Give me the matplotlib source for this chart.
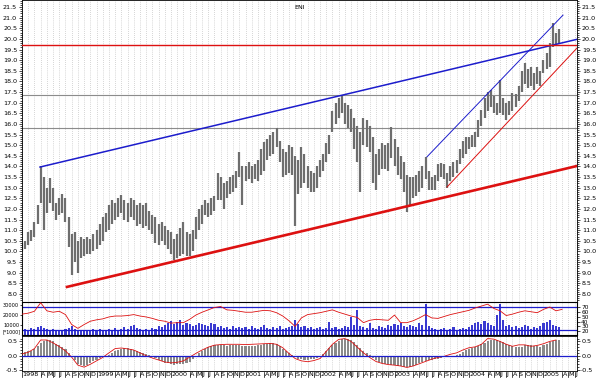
import matplotlib
matplotlib.use("Agg")
import matplotlib.pyplot as plt
import numpy as np

# semi-monthly price bars, Jan 1998 .. Mar 2005 (low / high)
price_low = [10.0, 10.1, 10.3, 10.5, 10.7, 11.3, 12.3, 11.0, 11.8, 12.3, 11.9, 11.5,
             11.7, 11.8, 11.4, 10.2, 8.9, 9.5, 9.0, 9.7, 9.8, 9.9, 9.9, 10.0,
             10.1, 10.3, 10.5, 10.9, 11.0, 11.3, 11.5, 11.6, 11.8, 11.5, 11.4, 11.6,
             11.5, 11.2, 11.3, 11.1, 11.2, 11.0, 10.8, 10.4, 10.3, 10.5, 10.3, 10.1,
             9.9, 9.6, 9.7, 9.8, 9.9, 9.8, 9.8, 10.0, 10.6, 11.0, 11.3, 11.7,
             11.6, 11.7, 11.9, 12.4, 12.4, 12.0, 12.5, 12.7, 12.8, 13.0, 13.5, 12.2,
             13.3, 13.4, 13.2, 13.4, 13.3, 13.6, 13.8, 14.3, 14.5, 14.6, 14.9, 14.2,
             13.5, 13.6, 13.7, 13.6, 11.2, 12.7, 13.0, 13.2, 13.0, 12.8, 12.8, 13.0,
             13.5, 13.8, 14.2, 14.6, 15.6, 16.0, 16.3, 16.5, 16.0, 15.8, 15.6, 14.8,
             14.2, 12.8, 15.0, 14.9, 14.7, 13.2, 12.9, 13.6, 13.9, 13.9, 13.8, 14.4,
             14.0, 13.6, 13.4, 12.8, 11.85, 12.2, 12.5, 12.6, 12.8, 13.0, 13.4, 12.9,
             12.9, 12.9, 13.3, 13.5, 13.4, 13.0, 13.3, 13.5, 13.7, 14.1, 14.4, 14.6,
             14.8, 14.9, 14.9, 15.4, 15.9, 16.3, 16.6, 16.8, 16.5, 16.4, 16.5, 16.4,
             16.2, 16.4, 16.6, 16.8, 17.1, 17.5, 17.9, 17.7, 17.8, 17.6, 17.9, 17.8,
             18.4, 18.6, 18.7, 19.6, 19.7, 19.8]
price_high = [10.4, 10.5, 10.9, 11.0, 11.4, 12.2, 14.0, 13.5, 13.0, 13.45, 13.0, 12.3,
              12.5, 12.7, 12.5, 11.6, 10.8, 10.9, 10.5, 10.7, 10.6, 10.7, 10.6, 10.8,
              11.0, 11.3, 11.6, 11.8, 12.2, 12.4, 12.3, 12.5, 12.65, 12.4, 12.3, 12.5,
              12.4, 12.2, 12.3, 12.2, 12.3, 11.9, 11.7, 11.6, 11.3, 11.4, 11.2, 11.0,
              10.9, 10.6, 10.8, 11.1, 11.4, 10.9, 10.8, 11.0, 11.6, 12.0, 12.2, 12.4,
              12.3, 12.5, 12.6, 13.7, 13.5, 13.2, 13.3, 13.5, 13.6, 13.8, 14.7, 14.0,
              14.0, 14.2, 14.0, 14.1, 14.3, 14.8, 15.15, 15.3, 15.5, 15.6, 15.8, 15.2,
              14.8, 14.7, 15.0, 14.9, 14.5, 14.3, 14.9, 14.6, 14.0, 13.8, 13.7, 14.0,
              14.3, 14.6, 15.1, 15.5, 16.6, 17.0, 17.2, 17.35, 17.0, 16.9, 16.7, 16.3,
              15.9, 15.6, 16.3, 16.2, 15.9, 15.4, 14.6, 14.8, 15.1, 15.0, 15.1, 15.85,
              15.3, 14.9, 14.5, 14.2, 13.6, 13.5, 13.5, 13.6, 13.8, 14.0, 14.45, 13.8,
              13.5, 13.6, 14.1, 14.15, 14.1, 13.7, 14.0, 14.2, 14.3, 14.8, 15.2, 15.4,
              15.4, 15.5, 15.6, 16.2, 16.65, 17.2, 17.5, 17.6, 17.3, 17.0, 18.05, 17.2,
              17.0, 17.1, 17.45, 17.4, 17.8, 18.5, 18.85, 18.6, 18.7, 18.4, 18.7, 18.5,
              19.0, 19.35, 19.8, 20.75, 20.3, 20.45]

# volume (thousands), semi-monthly
volume = [5, 6, 5, 7, 6, 8, 9, 7, 6, 5, 6, 5, 4, 5, 6, 7, 9, 6, 5, 4, 5, 4, 5, 6,
          5, 6, 5, 4, 6, 5, 7, 5, 6, 8, 6, 9, 10, 7, 6, 5, 6, 5, 7, 6, 9, 8, 10, 12,
          14, 11, 13, 15, 10, 12, 11, 9, 10, 12, 11, 10, 9, 12, 11, 8, 9, 7, 8, 6, 9, 7, 8, 7,
          8, 6, 9, 7, 6, 8, 10, 7, 6, 8, 7, 9, 6, 7, 8, 9, 15, 11, 8, 9, 7, 8, 6, 7,
          8, 6, 7, 13, 7, 8, 6, 7, 9, 8, 18, 10, 25, 9, 8, 7, 12, 7, 6, 9, 8, 7, 10, 9,
          11, 10, 12, 9, 8, 10, 9, 8, 12, 10, 31, 9, 7, 6, 5, 6, 7, 5, 6, 8, 5, 6, 7, 6,
          8, 10, 12, 13, 11, 14, 12, 10, 9, 20, 31, 15, 9, 10, 8, 9, 7, 8, 10, 9, 6, 8, 7, 9,
          12, 13, 15, 10, 9, 8]

# monthly oscillator in volume panel (right scale)
osc = [56, 58, 62, 80, 63, 60, 62, 55, 34, 26, 34, 41, 44, 46, 50, 52, 52, 53, 55, 52,
       50, 47, 43, 41, 37, 38, 38, 45, 54, 60, 65, 70, 72, 65, 64, 62, 60, 60, 62, 64,
       63, 59, 52, 42, 30, 48, 55, 57, 59, 62, 65, 60, 56, 52, 49, 38, 43, 45, 44, 43,
       54, 38, 38, 42, 48, 55, 48, 47, 51, 55, 58, 61, 64, 69, 73, 77, 68, 63, 53, 56,
       60, 63, 61, 59, 66, 71, 63, 66]

# MACD bars (semi-monthly) and signal (monthly)
macd = [0.10, 0.12, 0.15, 0.18, 0.25, 0.35, 0.45, 0.50, 0.55, 0.55, 0.50, 0.42,
        0.36, 0.30, 0.22, 0.10, -0.02, -0.15, -0.28, -0.34, -0.36, -0.32, -0.26, -0.20,
        -0.14, -0.08, -0.04, -0.01, 0.03, 0.10, 0.16, 0.21, 0.24, 0.26, 0.26, 0.24,
        0.21, 0.17, 0.12, 0.08, 0.05, 0.02, -0.02, -0.08, -0.15, -0.20, -0.24, -0.27,
        -0.30, -0.31, -0.30, -0.29, -0.28, -0.27, -0.22, -0.12, -0.02, 0.08, 0.16, 0.24,
        0.30, 0.33, 0.36, 0.38, 0.37, 0.36, 0.35, 0.36, 0.37, 0.38, 0.37, 0.35,
        0.34, 0.33, 0.34, 0.35, 0.36, 0.38, 0.40, 0.42, 0.44, 0.43, 0.40, 0.34,
        0.25, 0.16, 0.08, 0.01, -0.06, -0.10, -0.13, -0.14, -0.14, -0.13, -0.11, -0.07,
        -0.02, 0.06, 0.16, 0.26, 0.36, 0.45, 0.52, 0.57, 0.60, 0.59, 0.55, 0.47,
        0.37, 0.26, 0.17, 0.08, 0.01, -0.07, -0.15, -0.21, -0.25, -0.28, -0.30, -0.31,
        -0.33, -0.35, -0.37, -0.40, -0.41, -0.40, -0.36, -0.31, -0.27, -0.23, -0.19, -0.16,
        -0.14, -0.12, -0.10, -0.08, -0.06, -0.05, -0.04, -0.02, 0.01, 0.07, 0.14, 0.20,
        0.25, 0.28, 0.31, 0.35, 0.40, 0.46, 0.52, 0.55, 0.56, 0.54, 0.52, 0.47,
        0.41, 0.36, 0.33, 0.31, 0.30, 0.32, 0.36, 0.37, 0.36, 0.34, 0.33, 0.32,
        0.36, 0.42, 0.48, 0.52, 0.54, 0.56]
signal = [0.06, 0.12, 0.25, 0.55, 0.55, 0.45, 0.32, 0.17, -0.05, -0.33, -0.40, -0.30,
          -0.18, -0.06, 0.10, 0.25, 0.27, 0.24, 0.20, 0.10, 0.00, -0.08, -0.15, -0.22,
          -0.25, -0.23, -0.18, -0.05, 0.08, 0.20, 0.30, 0.37, 0.39, 0.40, 0.40, 0.40,
          0.39, 0.40, 0.41, 0.42, 0.43, 0.40, 0.28, 0.08, -0.10, -0.18, -0.21, -0.17,
          -0.10, 0.15, 0.40, 0.57, 0.60, 0.50, 0.30, 0.10, -0.06, -0.20, -0.27, -0.31,
          -0.33, -0.36, -0.41, -0.36, -0.28, -0.20, -0.12, -0.06, -0.02, 0.05, 0.10, 0.20,
          0.28, 0.31, 0.40, 0.60, 0.58, 0.50, 0.40, 0.33, 0.38, 0.38, 0.33, 0.36,
          0.42, 0.50, 0.55]

# trend lines (year, price)
trend_blue_long = ([1998.242, 2005.45], [13.97, 19.98])
trend_red_long = ([1998.604, 2005.45], [8.33, 14.02])
trend_blue_short = ([2003.436, 2005.262], [14.45, 21.12])
trend_red_short = ([2003.705, 2005.45], [13.03, 19.57])
level_red = 19.7
levels_grey = [17.35, 15.8]

t_bar = 1998 + np.arange(len(price_low)) / 24.0
t_month = 1998 + np.arange(len(signal)) / 12.0
t_osc = 1998 + np.arange(len(osc)) / 12.0
x0, x1 = 1998.0, 2005.45
months = 1998 + np.arange(0, 90) / 12.0

GREY = '#6e6e6e'
BLUE = '#1c1ccc'
RED = '#dd1111'
FS = 4.6

fig = plt.figure(figsize=(6, 3.78), dpi=100)
ax = fig.add_axes([0.0367, 0.2011, 0.925, 0.7989])
axv = fig.add_axes([0.0367, 0.1138, 0.925, 0.0873])
axm = fig.add_axes([0.0367, 0.0185, 0.925, 0.0926])

for a in (ax, axv, axm):
    a.set_xlim(x0, x1)
    for m in months:
        a.axvline(m, color='#b0b0b0', lw=0.5, ls=(0, (1, 2)), zorder=0)
    a.tick_params(axis='x', length=0, labelbottom=False)
    for s in a.spines.values():
        s.set_linewidth(0.6)

# main price panel
ax.vlines(t_bar, price_low, price_high, color=GREY, lw=1.6, zorder=2)
ax.plot(*trend_blue_long, color=BLUE, lw=1.1, zorder=3)
ax.plot(*trend_red_long, color=RED, lw=1.9, zorder=3)
ax.plot(*trend_blue_short, color=BLUE, lw=0.7, zorder=3)
ax.plot(*trend_red_short, color=RED, lw=0.7, zorder=3)
ax.axhline(level_red, color=RED, lw=1.0, zorder=3)
for lv in levels_grey:
    ax.axhline(lv, color='#8c8c8c', lw=0.8, zorder=1)
ax.set_ylim(7.62, 21.83)
ax.set_yticks(np.arange(8.0, 21.51, 0.5))
ax.set_yticks(np.arange(7.7, 21.81, 0.1), minor=True)
ax.yaxis.set_major_formatter(matplotlib.ticker.FormatStrFormatter('%.1f'))
ax.tick_params(axis='y', which='both', left=True, right=True, labelleft=True,
               labelright=True, labelsize=FS, length=2.5, width=0.5, pad=1)
ax.tick_params(axis='y', which='minor', length=1.5)
ax.text(0.5, 0.985, 'ENI', transform=ax.transAxes, ha='center', va='top', fontsize=FS)

# volume panel
axv.bar(t_bar, np.array(volume) * 1000, width=1 / 36, color='#3a3ad0', zorder=2)
axv.set_ylim(0, 33000)
axv.set_yticks([10000, 20000, 30000])
axv.tick_params(axis='y', labelsize=3.6, length=1.5, width=0.5, pad=0.5)
axv.text(-0.002, 0.09, '[*1000]', transform=axv.transAxes, ha='right', va='center', fontsize=3.4)
axo = axv.twinx()
axo.set_xlim(x0, x1)
axo.set_ylim(12, 81.6)
axo.plot(t_osc, osc, color=RED, lw=0.6, zorder=3)
axo.axhline(71, color=BLUE, lw=0.9)
axo.axhline(22, color=BLUE, lw=0.9)
axo.set_yticks([20, 30, 40, 50, 60, 70])
axo.tick_params(axis='y', labelsize=4.2, length=2, width=0.5, pad=1)

# macd panel
axm.bar(t_bar, macd, width=1 / 36, color='#8a8a8a', zorder=2)
axm.plot(t_month, signal, color=RED, lw=0.6, zorder=3)
axm.axhline(0, color=BLUE, lw=0.9, zorder=3)
axm.set_ylim(-0.535, 0.69)
axm.set_yticks([-0.5, 0.0, 0.5])
axm.yaxis.set_major_formatter(matplotlib.ticker.FormatStrFormatter('%.1f'))
axm.set_yticks(np.arange(-0.5, 0.61, 0.1), minor=True)
axm.tick_params(axis='y', which='both', left=True, right=True, labelleft=True,
                labelright=True, labelsize=FS, length=2, width=0.5, pad=1)
axm.tick_params(axis='y', which='minor', length=1.2)

# month labels
blend = matplotlib.transforms.blended_transform_factory(axm.transData, axm.transAxes)
letters = 'JFMAMJJASOND'
for k, m in enumerate(months):
    if m > x1:
        break
    mi = k % 12
    if mi == 0:
        lab = str(1998 + k // 12)
    elif mi in (1, 2):
        continue
    else:
        lab = letters[mi]
    axm.text(m + 0.006, -0.03, lab, transform=blend, ha='left', va='top', fontsize=FS, clip_on=False)
    axm.plot([m, m], [-0.02, -0.17], color='black', lw=0.5, transform=blend, clip_on=False)

fig.savefig('out.png', dpi=100, facecolor='white')
